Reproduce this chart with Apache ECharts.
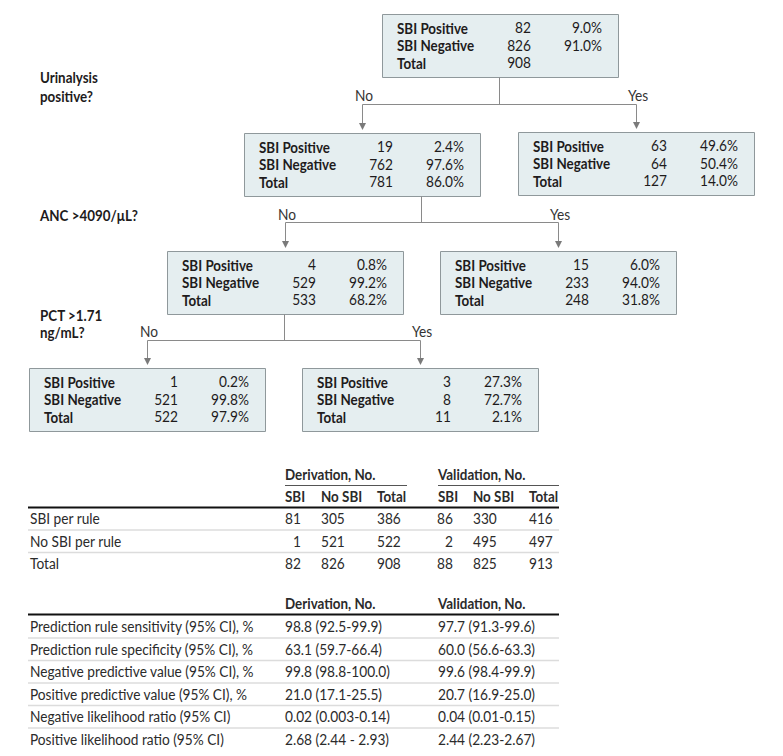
<!DOCTYPE html>
<html><head><meta charset="utf-8">
<script src="https://cdn.jsdelivr.net/npm/echarts@6/dist/echarts.min.js"></script>
<style>html,body{margin:0;padding:0;background:#fff}#c{width:783px;height:756px}</style>
</head><body><div id="c"></div>
<script>
// ---------------- Data ----------------
const rowLabels = ['SBI Positive', 'SBI Negative', 'Total'];
const sbiPositive = [82, 19, 63, 4, 15, 1, 3];
const sbiPositivePct = ['9.0%', '2.4%', '49.6%', '0.8%', '6.0%', '0.2%', '27.3%'];
const sbiNegative = [826, 762, 64, 529, 233, 521, 8];
const sbiNegativePct = ['91.0%', '97.6%', '50.4%', '99.2%', '94.0%', '99.8%', '72.7%'];
const totalCount = [908, 781, 127, 533, 248, 522, 11];
const totalPct = ['', '86.0%', '14.0%', '68.2%', '31.8%', '97.9%', '2.1%'];
const questions = [['Urinalysis', 'positive?'], ['ANC >4090/μL?'], ['PCT >1.71', 'ng/mL?']];
const branchLabels = ['No', 'Yes'];
const splitParents = [0, 1, 3];
const splitChildren = [[1, 2], [3, 4], [5, 6]];

const table1Groups = ['Derivation, No.', 'Validation, No.'];
const table1Cols = ['SBI', 'No SBI', 'Total'];
const table1Rows = ['SBI per rule', 'No SBI per rule', 'Total'];
const derivationCounts = [[81, 305, 386], [1, 521, 522], [82, 826, 908]];
const validationCounts = [[86, 330, 416], [2, 495, 497], [88, 825, 913]];

const table2Groups = ['Derivation, No.', 'Validation, No.'];
const table2Rows = [
  'Prediction rule sensitivity (95% CI), %',
  'Prediction rule specificity (95% CI), %',
  'Negative predictive value (95% CI), %',
  'Positive predictive value (95% CI), %',
  'Negative likelihood ratio (95% CI)',
  'Positive likelihood ratio (95% CI)'
];
const derivationStats = ['98.8 (92.5-99.9)', '63.1 (59.7-66.4)', '99.8 (98.8-100.0)', '21.0 (17.1-25.5)', '0.02 (0.003-0.14)', '2.68 (2.44 - 2.93)'];
const validationStats = ['97.7 (91.3-99.6)', '60.0 (56.6-63.3)', '99.6 (98.4-99.9)', '20.7 (16.9-25.0)', '0.04 (0.01-0.15)', '2.44 (2.23-2.67)'];

// ---------------- Layout / style ----------------
const FONT = "Lato, 'Open Sans', sans-serif";
const FS = 16;
const TEXT_DY = -1;
// condensed look: horizontal squeeze calibrated on reference string widths
const mctx = document.createElement('canvas').getContext('2d');
function mw(s, f) { mctx.font = f; return mctx.measureText(s).width; }
const SCALE_REG = 224 / mw('Prediction rule sensitivity (95% CI), %', FS + 'px ' + FONT);
const SCALE_BOLD = 71 / mw('SBI Positive', 'bold ' + FS + 'px ' + FONT);

const BOX_W = 236, BOX_H = 63;
const boxPos = [[382, 14], [244, 133], [518, 132], [167, 251], [440, 251], [29, 368], [302, 368]];
const splitLayout = [
  { stemX: 499, barY: 104, labelY: 96, qY: [77, 96] },
  { stemX: 421, barY: 222, labelY: 215, qY: [215] },
  { stemX: 284, barY: 340, labelY: 332, qY: [315, 332] }
];
const BOX_FILL = '#e5eef0', BOX_STROKE = '#8f989b', LINE = '#8a8a8a', TXT = '#1e1b1c';

const els = [];
function txt(x, y, s, opt) {
  opt = opt || {};
  els.push({ type: 'text', x: x, y: y + TEXT_DY, silent: true,
    scaleX: opt.bold ? SCALE_BOLD : SCALE_REG,
    style: {
      text: String(s), fill: opt.fill || TXT,
      font: (opt.bold ? 'bold ' : '') + (opt.size || FS) + 'px ' + FONT,
      align: opt.align || 'left', verticalAlign: 'middle' } });
}
function line(x1, y1, x2, y2, color, w) {
  els.push({ type: 'line', silent: true, shape: { x1: x1, y1: y1, x2: x2, y2: y2 },
    style: { stroke: color, lineWidth: w || 1 } });
}

// boxes
const rowOff = [14, 31.5, 49];
boxPos.forEach(function (p, i) {
  els.push({ type: 'rect', silent: true, shape: { x: p[0] + 0.5, y: p[1] + 0.5, width: BOX_W, height: BOX_H },
    style: { fill: BOX_FILL, stroke: BOX_STROKE, lineWidth: 1 } });
  const nums = [sbiPositive[i], sbiNegative[i], totalCount[i]];
  const pcts = [sbiPositivePct[i], sbiNegativePct[i], totalPct[i]];
  rowLabels.forEach(function (lab, r) {
    const y = p[1] + rowOff[r];
    txt(p[0] + 15, y, lab, { bold: true });
    txt(p[0] + 149, y, nums[r], { align: 'right' });
    if (pcts[r]) txt(p[0] + 220, y, pcts[r], { align: 'right' });
  });
});

// connectors
splitParents.forEach(function (par, k) {
  const L = splitLayout[k];
  const pp = boxPos[par];
  const sx = L.stemX + 0.5;
  line(sx, pp[1] + BOX_H + 0.5, sx, L.barY + 0.5, LINE);
  const cxs = splitChildren[k].map(function (c) { return boxPos[c][0] + BOX_W / 2; });
  line(cxs[0] + 0.5, L.barY + 0.5, cxs[1] + 0.5, L.barY + 0.5, LINE);
  splitChildren[k].forEach(function (c, j) {
    const cx = cxs[j] + 0.5, top = boxPos[c][1];
    line(cx, L.barY + 0.5, cx, top - 8, LINE);
    els.push({ type: 'polygon', silent: true, shape: { points: [[cx - 3.5, top - 10], [cx + 3.5, top - 10], [cx, top - 3]] },
      style: { fill: '#7a7a7a' } });
    txt(cxs[j] + 2, L.labelY, branchLabels[j], { align: 'center', fill: '#333' });
  });
  questions[k].forEach(function (q, qi) { txt(40, L.qY[qi], q, { bold: true }); });
});

// table 1
const T_LEFT = 28, T_RIGHT = 559;
const grpX = [285, 438], grpEnd = [407, 559];
const colX1 = [[301, 321, 377], [453, 473, 529]];
const colAlign = ['right', 'left', 'left'];
const TT = '#2b2b2b';
table1Groups.forEach(function (g, gi) {
  txt(grpX[gi], 474, g, { bold: true, fill: TT });
  line(grpX[gi], 485.5, grpEnd[gi], 485.5, '#555', 1);
  table1Cols.forEach(function (c, ci) {
    const x = ci === 0 ? grpX[gi] : colX1[gi][ci];
    txt(x, 496, c, { bold: true, fill: TT });
  });
});
line(T_LEFT, 507.5, T_RIGHT, 507.5, '#111', 2);
const t1RowY = [519, 541.5, 564];
table1Rows.forEach(function (r, ri) {
  txt(30, t1RowY[ri], r, { fill: TT });
  [derivationCounts, validationCounts].forEach(function (src, gi) {
    src[ri].forEach(function (v, ci) { txt(colX1[gi][ci], t1RowY[ri], v, { align: colAlign[ci], fill: TT }); });
  });
  if (ri < table1Rows.length - 1) line(T_LEFT, t1RowY[ri] + 11, T_RIGHT, t1RowY[ri] + 11, '#dcdcdc', 1.5);
});

// table 2
table2Groups.forEach(function (g, gi) { txt(grpX[gi], 603, g, { bold: true, fill: TT }); });
line(T_LEFT, 614.5, T_RIGHT, 614.5, '#111', 2);
table2Rows.forEach(function (r, ri) {
  const y = 627 + ri * 22.5;
  txt(30, y, r, { fill: TT });
  txt(grpX[0], y, derivationStats[ri], { fill: TT });
  txt(grpX[1], y, validationStats[ri], { fill: TT });
  if (ri < table2Rows.length - 1) line(T_LEFT, y + 11, T_RIGHT, y + 11, '#dcdcdc', 1.5);
});

const chart = echarts.init(document.getElementById('c'), null, { renderer: 'svg', width: 783, height: 756 });
chart.setOption({ backgroundColor: '#fff', animation: false, graphic: { elements: els } });
</script></body></html>
